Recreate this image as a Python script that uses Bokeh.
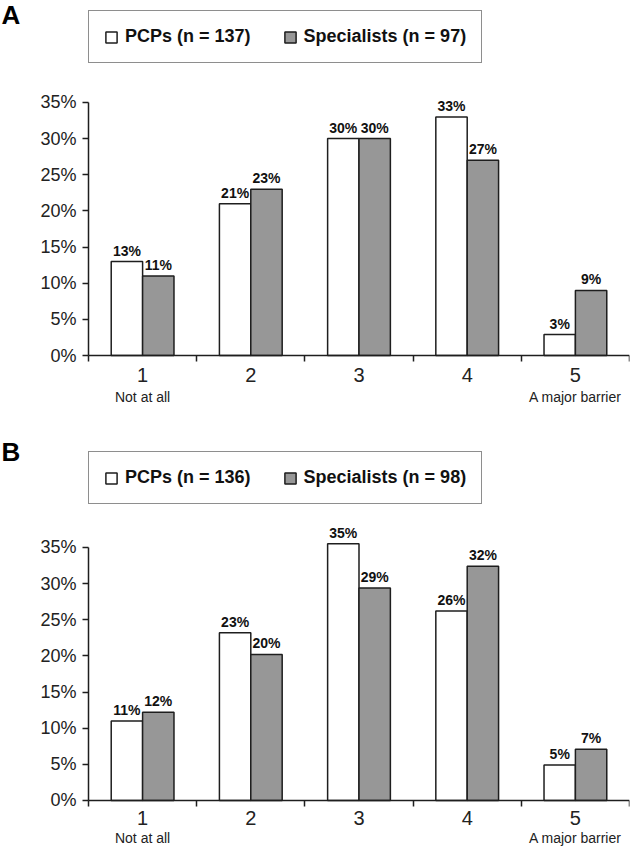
from bokeh.plotting import figure
from bokeh.models import (FixedTicker, LinearAxis, Legend, LegendItem,
                          PrintfTickFormatter, Range1d, ColumnDataSource)
from bokeh.transform import dodge
from bokeh.layouts import column
from bokeh.embed import file_html
from bokeh.resources import INLINE
from bokeh.core.properties import value

# ---------------- data ----------------
categories = [1, 2, 3, 4, 5]
cat_labels = ["1", "2", "3", "4", "5"]
anchor_labels = ["Not at all", "", "", "", "A major barrier"]
y_ticks = [0, 5, 10, 15, 20, 25, 30, 35]

a_pcp = [13.0, 21.0, 30.0, 33.0, 2.9]
a_spec = [11.0, 23.0, 30.0, 27.0, 9.0]
a_pcp_text = ["13%", "21%", "30%", "33%", "3%"]
a_spec_text = ["11%", "23%", "30%", "27%", "9%"]
a_legend = ["PCPs (n = 137)", "Specialists (n = 97)"]

b_pcp = [11.0, 23.2, 35.5, 26.2, 4.9]
b_spec = [12.2, 20.2, 29.4, 32.4, 7.1]
b_pcp_text = ["11%", "23%", "35%", "26%", "5%"]
b_spec_text = ["12%", "20%", "29%", "32%", "7%"]
b_legend = ["PCPs (n = 136)", "Specialists (n = 98)"]

FONT = "Liberation Sans"
INK = "#1e1e1e"
GRAY = "#979797"

# layout constant: leaves ~88px left of the first category boundary for the y axis
X_START = -0.3133


def make_panel(letter, pcp, spec, pcp_text, spec_text, legend_labels, height,
               y_start, y_end, legend_y, letter_dy, std1, std2):
    lo, hi = categories[0] - 0.5, categories[-1] + 0.5
    p = figure(width=630, height=height, x_range=Range1d(X_START, hi),
               y_range=Range1d(y_start, y_end),
               output_backend="svg", toolbar_location=None,
               min_border_left=0, min_border_right=1, min_border_top=0,
               min_border_bottom=0, outline_line_color=None,
               x_axis_location=None, y_axis_location=None)
    p.grid.visible = False

    src = ColumnDataSource(dict(cat=categories, pcp=pcp, spec=spec,
                                pcp_text=pcp_text, spec_text=spec_text))
    xp = dodge("cat", -0.145, range=p.x_range)
    xs = dodge("cat", 0.145, range=p.x_range)
    r1 = p.vbar(x=xp, top="pcp", bottom=0, width=0.29, source=src, fill_color="white",
                line_color=INK, line_width=1.5)
    r2 = p.vbar(x=xs, top="spec", bottom=0, width=0.29, source=src, fill_color=GRAY,
                line_color=INK, line_width=1.5)
    for xx, col in ((xp, "pcp"), (xs, "spec")):
        p.text(x=xx, y=col, text=col + "_text", source=src, y_offset=-3,
               text_align="center", text_baseline="bottom",
               text_font=value(FONT), text_font_style="bold",
               text_font_size="14px", text_color="#111111")

    # panel letter
    p.text(x=[X_START], y=[y_end], text=[letter], x_offset=1, y_offset=letter_dy,
           text_align="left", text_baseline="alphabetic",
           text_font=value(FONT), text_font_style="bold",
           text_font_size="26px", text_color="#000000")

    # x axis at y = 0: ticks between categories (minor ticks), numbers as labels
    xa = LinearAxis(fixed_location=0, bounds=(lo, hi),
                    ticker=FixedTicker(ticks=categories,
                                       minor_ticks=[c - 0.5 for c in categories] + [hi]),
                    major_label_overrides={c: l for c, l in zip(categories, cat_labels)},
                    major_tick_line_color=None, major_tick_out=0, major_tick_in=0,
                    minor_tick_out=6, minor_tick_in=0, minor_tick_line_color=INK,
                    minor_tick_line_width=1.5, axis_line_color=INK, axis_line_width=1.5,
                    major_label_standoff=std1, major_label_text_font=FONT,
                    major_label_text_font_size="20px", major_label_text_color="#222222")
    p.add_layout(xa, "below")

    xa2 = LinearAxis(fixed_location=0, ticker=FixedTicker(ticks=categories),
                     major_label_overrides={c: l for c, l in zip(categories, anchor_labels)},
                     axis_line_color=None, major_tick_line_color=None,
                     minor_tick_line_color=None,
                     major_tick_out=0, major_tick_in=0, major_label_standoff=std2,
                     major_label_text_font=FONT, major_label_text_font_size="14px",
                     major_label_text_color="#222222")
    p.add_layout(xa2, "below")

    ya = LinearAxis(fixed_location=lo, ticker=FixedTicker(ticks=y_ticks),
                    formatter=PrintfTickFormatter(format="%d%%"), bounds=(0, 35),
                    major_tick_out=6, major_tick_in=0, minor_tick_line_color=None,
                    major_tick_line_color=INK, major_tick_line_width=1.5,
                    axis_line_color=INK, axis_line_width=1.5, major_label_standoff=6,
                    major_label_text_font=FONT, major_label_text_font_size="18px",
                    major_label_text_color="#222222")
    p.add_layout(ya, "left")

    legend = Legend(items=[LegendItem(label=legend_labels[0], renderers=[r1]),
                           LegendItem(label=legend_labels[1], renderers=[r2])],
                    orientation="horizontal", location=(88, legend_y),
                    border_line_color=INK, border_line_width=1.5,
                    background_fill_color="white", background_fill_alpha=1.0,
                    label_text_font=FONT, label_text_font_style="bold",
                    label_text_font_size="18px", label_text_color="#111111",
                    glyph_width=14, glyph_height=14, label_standoff=7,
                    spacing=32, padding=15, margin=0)
    p.add_layout(legend)
    return p


# panel A: 437px tall, zero line 355px below its top; panel B: 411px, zero line 363px below top
pa = make_panel("A", a_pcp, a_spec, a_pcp_text, a_spec_text, a_legend, 437,
                -11.34, 49.1, 374, 14.5, 6, 33)
pb = make_panel("B", b_pcp, b_spec, b_pcp_text, b_spec_text, b_legend, 411,
                -6.64, 50.2, 344, 14.5, 5, 30)

layout = column(pa, pb, spacing=0)
open("out.html", "w").write(file_html(layout, INLINE))
